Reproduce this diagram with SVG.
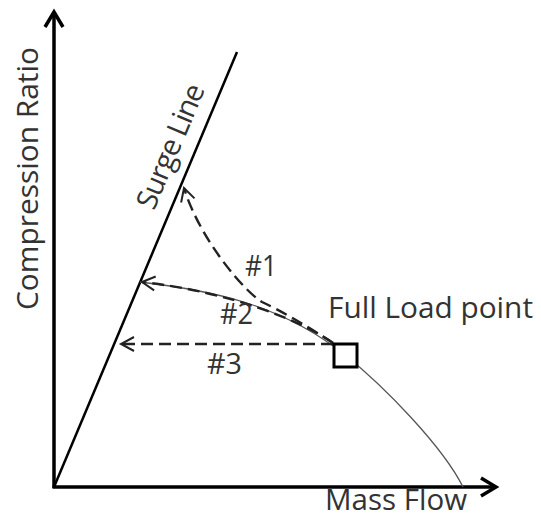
<svg xmlns="http://www.w3.org/2000/svg" width="541" height="518" viewBox="0 0 541 518">
  <style>
    .lbl { font-family: "Open Sans", "Liberation Sans", sans-serif; font-size: 29px; fill: #333; }
    .axis { stroke: #000; stroke-width: 3.5; fill: none; }
    .dash { stroke: #222; stroke-width: 2.4; fill: none; stroke-dasharray: 12 6; }
  </style>
  <defs>
    <marker id="axisHead" markerUnits="userSpaceOnUse" markerWidth="24" markerHeight="24" refX="18" refY="12" orient="auto" overflow="visible">
      <path d="M3,3 L18,12 L3,21" fill="none" stroke="#000" stroke-width="3.5" stroke-linejoin="miter"/>
    </marker>
    <marker id="openHead" markerUnits="userSpaceOnUse" markerWidth="20" markerHeight="20" refX="14" refY="10" orient="auto" overflow="visible">
      <path d="M1,3 L14,10 L1,17" fill="none" stroke="#222" stroke-width="2"/>
    </marker>
  </defs>

  <rect width="541" height="518" fill="#fff"/>

  <g id="axes">
    <line class="axis" x1="54" y1="488" x2="54" y2="12" marker-end="url(#axisHead)"/>
    <line class="axis" x1="52.5" y1="487" x2="496" y2="487" marker-end="url(#axisHead)"/>
  </g>

  <g id="surge-line">
    <line x1="54" y1="487" x2="237" y2="52" stroke="#000" stroke-width="2.5"/>
    <text class="lbl" text-anchor="middle" letter-spacing="-1" transform="translate(179.5,150.5) rotate(-67.2)">Surge Line</text>
  </g>

  <g id="speed-line">
    <path d="M140,282 C208,290 280,303 345,355 C385,387 443,447 463,487" fill="none" stroke="#555" stroke-width="1.3"/>
  </g>

  <g id="connectors">
    <path id="path1" class="dash" d="M333,343 Q290,315 262,302 C245,292 200,240 184,188" marker-end="url(#openHead)"/>
    <path id="path2" class="dash" d="M333,343 C300,320 230,292 142,282" marker-end="url(#openHead)"/>
    <path id="path3" class="dash" d="M333,344 L121,344" marker-end="url(#openHead)"/>
  </g>

  <g id="full-load-point">
    <rect x="334" y="344" width="23" height="23" fill="#fff" stroke="#000" stroke-width="3"/>
    <text class="lbl" x="328" y="318" textLength="205" lengthAdjust="spacingAndGlyphs">Full Load point</text>
  </g>

  <g id="labels">
    <text class="lbl" text-anchor="middle" textLength="263" lengthAdjust="spacingAndGlyphs" transform="translate(38,178.5) rotate(-90)">Compression Ratio</text>
    <text class="lbl" x="325" y="510" font-size="28" textLength="142" lengthAdjust="spacingAndGlyphs">Mass Flow</text>
    <text class="lbl" x="245" y="276" textLength="32" lengthAdjust="spacingAndGlyphs">#1</text>
    <text class="lbl" x="220" y="324" textLength="33" lengthAdjust="spacingAndGlyphs">#2</text>
    <text class="lbl" x="207" y="374" textLength="35" lengthAdjust="spacingAndGlyphs">#3</text>
  </g>
</svg>
